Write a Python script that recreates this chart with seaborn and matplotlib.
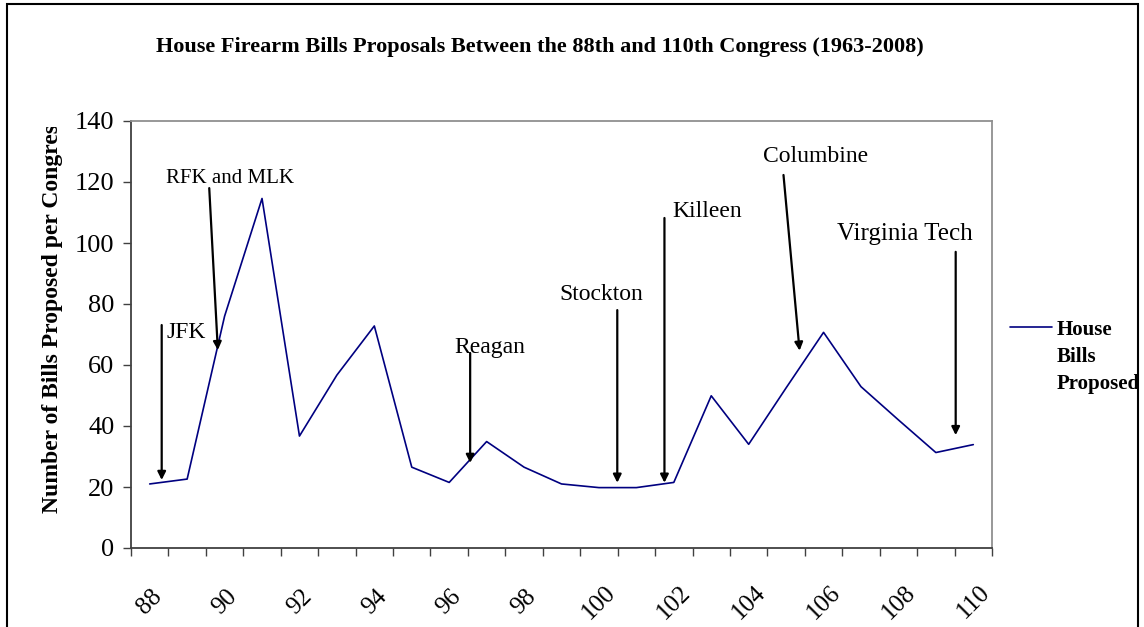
import numpy as np
import pandas as pd
import matplotlib
matplotlib.use("Agg")
import matplotlib.pyplot as plt
import seaborn as sns
from matplotlib.lines import Line2D
from matplotlib.patches import Rectangle
from matplotlib.transforms import Bbox, TransformedBbox

# data
congress = list(range(88, 111))
bills = [21, 22.6, 76, 114.6, 36.7, 56.7, 72.8, 26.5, 21.5, 34.9, 26.5, 21,
         19.8, 19.8, 21.5, 49.9, 34, 52.5, 70.7, 52.9, 42, 31.3, 33.9]
tick_labels = [str(c) for c in congress[::2]]

# event annotations: label, text x/y, arrow tail x/y, arrow tip x/y, font size
events = [
    ("JFK",           0.44, 68.9,  0.32, 73.1,  0.32, 22.3, 17),
    ("RFK and MLK",   0.44, 119.7, 1.59, 118.0, 1.82, 64.9, 15),
    ("Reagan",        8.14, 63.8,  8.56, 63.9,  8.56, 27.9, 17),
    ("Stockton",      10.93, 81.3, 12.49, 78.0, 12.49, 21.4, 17),
    ("Killeen",       13.97, 108.4, 13.75, 108.2, 13.75, 21.4, 17),
    ("Columbine",     16.39, 126.7, 16.93, 122.3, 17.36, 64.7, 17),
    ("Virginia Tech", 18.37, 101.0, 21.53, 97.1, 21.53, 37.0, 18),
]

df = pd.DataFrame({"pos": np.arange(len(congress)), "bills": bills})

sns.set_style("white")
plt.rcParams["font.family"] = ["Liberation Serif", "DejaVu Serif"]
plt.rcParams["text.color"] = "black"
plt.rcParams["xtick.color"] = "black"
plt.rcParams["ytick.color"] = "black"

W, H = 1144, 627
fig = plt.figure(figsize=(W / 100, H / 100), dpi=100)
ax = fig.add_axes([131 / W, 1 - 548 / H, (992 - 131) / W, (548 - 121) / H])

sns.lineplot(data=df, x="pos", y="bills", color="#000080", lw=1.2, ax=ax)

ax.set_xlim(-0.5, len(congress) - 0.5)
ax.set_ylim(0, 140)
ax.set_yticks(np.arange(0, 141, 20))
ax.set_xticks(np.arange(0, len(congress), 2))
ax.set_xticklabels(tick_labels, rotation=45, ha="center", va="center")
ax.set_xticks(np.arange(-0.5, len(congress), 1), minor=True)
ax.tick_params(axis="x", which="major", length=0, pad=39, labelsize=18)
ax.tick_params(axis="x", which="minor", length=6, width=1, color="#404040",
               direction="out", bottom=True)
ax.tick_params(axis="y", length=6, width=1, color="#404040", direction="out",
               left=True, pad=6, labelsize=19)
ax.set_xlabel("")
ax.set_ylabel("")
for s in ["left", "bottom"]:
    ax.spines[s].set_color("#404040")
    ax.spines[s].set_linewidth(1.3)
for s in ["top", "right"]:
    ax.spines[s].set_color("#909090")
    ax.spines[s].set_linewidth(1.3)

for name, tx, ty, ax0, ay0, ax1, ay1, fs in events:
    ax.text(tx, ty, name, fontsize=fs, ha="left", va="baseline")
    ax.annotate("", xy=(ax1, ay1), xytext=(ax0, ay0),
                arrowprops=dict(arrowstyle="-|>", color="black", lw=1.6,
                                mutation_scale=12, shrinkA=0, shrinkB=0))

fig.text(540 / W, 1 - 47 / H,
         "House Firearm Bills Proposals Between the 88th and 110th Congress (1963-2008)",
         ha="center", va="center", fontsize=16, fontweight="bold")

ylab = fig.text(53 / W, 1 - 513 / H, "Number of Bills Proposed per Congress",
                rotation=90, ha="center", va="bottom", fontsize=17,
                fontweight="bold")
ylab.set_clip_box(TransformedBbox(Bbox([[0, 0], [1, 1 - 127 / H]]), fig.transFigure))
ylab.set_clip_on(True)

# legend drawn by hand so the line sits beside the first word
fig.add_artist(Line2D([1010 / W, 1052 / W], [1 - 327 / H, 1 - 327 / H],
                      color="#000080", lw=1.2, transform=fig.transFigure))
for i, word in enumerate(["House", "Bills", "Proposed"]):
    fig.text(1057 / W, 1 - (335 + 27 * i) / H, word, ha="left", va="baseline",
             fontsize=15, fontweight="bold")

fig.add_artist(Rectangle((7 / W, -0.1), (1138 - 7) / W, 1.1 - 4 / H,
                         fill=False, edgecolor="black", lw=1.5,
                         transform=fig.transFigure))

fig.savefig("out.png", dpi=100)
